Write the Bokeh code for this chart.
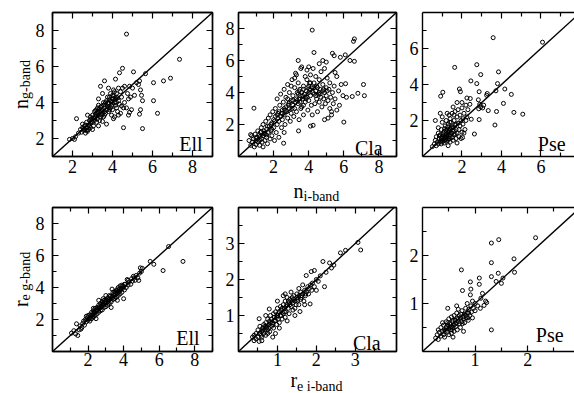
from bokeh.plotting import figure
from bokeh.layouts import column, row
from bokeh.models import Range1d, FixedTicker, LinearAxis, Label, Slope, CustomJSTickFormatter
from bokeh.embed import file_html
from bokeh.resources import INLINE

# ---------------- data: Sersic index n (g-band vs i-band) ----------------
ell_n_i = [1.85, 2.0, 2.1, 2.15, 2.2, 2.3, 2.4, 2.45, 2.5, 2.55,
           2.6, 2.6, 2.65, 2.7, 2.7, 2.75, 2.8, 2.8, 2.85, 2.9,
           2.9, 2.95, 3.0, 3.0, 3.05, 3.1, 3.1, 3.15, 3.2, 3.2,
           3.25, 3.25, 3.3, 3.3, 3.35, 3.4, 3.4, 3.45, 3.5, 3.5,
           3.5, 3.55, 3.6, 3.6, 3.6, 3.65, 3.7, 3.7, 3.7, 3.75,
           3.8, 3.8, 3.8, 3.85, 3.9, 3.9, 3.95, 4.0, 4.0, 4.0,
           4.05, 4.1, 4.1, 4.15, 4.2, 4.2, 4.25, 4.3, 4.3, 4.35,
           4.4, 4.4, 4.45, 4.5, 4.5, 4.55, 4.6, 4.6, 4.7, 4.7,
           4.75, 4.8, 4.8, 4.85, 4.9, 5.0, 5.05, 5.1, 5.2, 5.3,
           5.35, 5.4, 5.45, 5.5, 5.4, 5.35, 5.5, 5.65, 6.05, 6.05,
           6.25, 6.55, 6.9, 7.35, 4.15, 4.35, 3.4, 3.15, 2.9, 3.55,
           3.3, 3.45, 3.6, 3.75, 3.9, 4.0, 4.1, 4.2, 3.95, 3.85,
           4.95, 4.85, 4.55, 4.45, 4.3, 3.3, 3.0, 2.75, 3.5, 4.05,
           3.05, 3.15, 3.25, 3.35, 3.45, 3.55, 3.65, 3.75, 3.85, 3.95,
           4.05, 4.15, 4.25, 3.2, 3.4, 3.6, 3.8, 4.0, 4.2, 3.3,
           2.55, 2.65, 2.75, 2.85, 2.95, 2.5, 2.7, 2.9, 3.1, 3.2]
ell_n_g = [1.95, 2.0, 1.95, 2.1, 3.1, 2.3, 2.5, 2.35, 2.6, 2.45,
           2.7, 2.5, 2.3, 2.9, 2.6, 3.3, 2.75, 2.5, 3.0, 2.85,
           2.6, 3.1, 2.9, 3.3, 2.7, 3.0, 3.5, 3.2, 2.9, 3.4,
           3.1, 3.7, 3.3, 4.2, 3.0, 3.5, 3.2, 3.8, 3.4, 3.6,
           4.5, 3.2, 3.7, 3.9, 5.2, 3.4, 3.6, 4.1, 2.8, 3.8,
           4.0, 3.5, 4.8, 4.3, 3.7, 4.1, 3.3, 3.9, 4.4, 3.6,
           4.7, 4.0, 3.2, 4.2, 3.7, 4.5, 3.5, 4.8, 4.1, 3.9,
           4.6, 3.4, 4.3, 4.8, 5.9, 2.6, 4.0, 4.9, 3.7, 7.8,
           4.5, 4.2, 3.3, 4.9, 4.3, 4.8, 5.7, 4.4, 5.1, 5.0,
           5.2, 4.7, 4.4, 4.1, 3.6, 3.35, 2.55, 5.6, 5.1, 4.1,
           3.4, 5.2, 5.35, 6.4, 5.3, 5.65, 4.9, 3.55, 3.2, 4.0,
           3.5, 3.3, 3.3, 4.3, 4.5, 4.2, 4.6, 4.0, 3.8, 3.6,
           3.6, 3.45, 3.7, 3.8, 3.3, 2.7, 2.5, 2.4, 2.95, 3.1,
           3.15, 3.35, 3.45, 3.65, 3.55, 3.85, 4.0, 3.95, 4.15, 4.05,
           4.35, 3.85, 4.25, 3.6, 3.75, 3.5, 3.75, 4.25, 4.3, 3.85,
           2.55, 2.75, 2.65, 2.7, 2.95, 2.8, 2.45, 3.05, 3.1, 3.25]

cla_n_i = [0.6, 0.7, 0.75, 0.8, 0.85, 0.9, 0.95, 1.0, 1.0, 1.05,
           1.1, 1.1, 1.15, 1.2, 1.2, 1.25, 1.3, 1.3, 1.35, 1.4,
           1.4, 1.45, 1.5, 1.5, 1.55, 1.6, 1.6, 1.65, 1.7, 1.7,
           1.75, 1.8, 1.8, 1.85, 1.9, 1.9, 1.95, 2.0, 2.0, 2.05,
           2.1, 2.1, 2.15, 2.2, 2.2, 2.25, 2.3, 2.3, 2.35, 2.4,
           2.4, 2.45, 2.5, 2.5, 2.55, 2.6, 2.6, 2.65, 2.7, 2.7,
           2.75, 2.8, 2.8, 2.85, 2.9, 2.9, 2.95, 3.0, 3.0, 3.05,
           3.1, 3.1, 3.15, 3.2, 3.2, 3.25, 3.3, 3.3, 3.35, 3.4,
           3.4, 3.45, 3.5, 3.5, 3.55, 3.6, 3.6, 3.65, 3.7, 3.7,
           3.75, 3.8, 3.8, 3.85, 3.9, 3.9, 3.95, 4.0, 4.0, 4.05,
           3.3, 3.6, 3.9, 3.0, 3.2, 3.45, 3.7, 3.95, 3.35, 3.55,
           4.1, 4.1, 4.15, 4.2, 4.2, 4.25, 4.3, 4.3, 4.35, 4.4,
           4.4, 4.45, 4.5, 4.5, 4.55, 4.6, 4.6, 4.65, 4.7, 4.7,
           4.75, 4.8, 4.8, 4.85, 4.9, 4.9, 4.95, 5.0, 5.0, 5.05,
           5.1, 5.15, 5.2, 5.2, 5.25, 5.3, 5.35, 5.4, 5.45, 5.5,
           4.2, 6.55, 6.6, 0.88, 4.3, 5.35, 5.45, 5.8, 6.08, 6.35,
           6.6, 3.4, 7.12, 7.17, 6.8, 6.48, 6.15, 5.95, 6.0, 5.85,
           6.1, 5.5, 4.1, 4.25, 3.42, 2.57, 0.69, 5.6, 5.7, 5.75,
           4.0, 4.6, 5.0, 4.8, 5.6, 5.3, 5.1, 4.9, 1.4, 2.6,
           1.25, 1.45, 1.65, 1.85, 2.05, 2.25, 2.45, 2.65, 2.85, 3.05,
           3.25, 3.45, 3.65, 3.85, 4.05, 4.25, 4.45, 4.65, 4.85, 5.05,
           1.0, 1.3, 1.6, 1.9, 2.2, 2.5, 2.8, 3.1, 3.4, 3.7,
           4.0, 4.3, 4.6, 3.5, 3.8, 4.1, 4.4, 2.3, 2.6, 2.9]
cla_n_g = [1.0, 0.7, 1.3, 0.9, 1.1, 0.6, 1.4, 1.0, 0.75, 1.2,
           0.9, 1.6, 1.3, 1.0, 0.7, 1.5, 1.1, 1.8, 0.9, 1.3,
           2.0, 1.6, 1.0, 1.4, 2.2, 1.2, 1.7, 0.8, 1.5, 2.4,
           1.9, 1.1, 2.6, 1.6, 2.1, 1.3, 2.8, 1.8, 2.3, 1.0,
           2.5, 3.0, 1.5, 2.0, 3.6, 2.7, 2.2, 1.2, 3.2, 2.5,
           3.9, 1.8, 2.9, 2.3, 3.4, 4.2, 2.6, 2.0, 3.1, 3.7,
           2.8, 4.5, 2.4, 3.3, 3.0, 4.0, 2.2, 3.5, 2.7, 4.8,
           3.2, 3.8, 2.5, 4.3, 3.0, 5.2, 3.6, 2.8, 4.0, 3.3,
           4.6, 2.3, 3.8, 4.2, 5.5, 3.1, 4.0, 3.6, 4.4, 2.6,
           3.9, 5.0, 3.4, 4.1, 3.7, 5.4, 2.9, 4.0, 3.5, 4.6,
           5.1, 5.6, 4.8, 4.4, 4.9, 4.1, 3.2, 4.3, 3.5, 3.0,
           3.8, 5.1, 3.2, 4.3, 2.6, 5.5, 3.9, 4.6, 3.3, 4.1,
           5.0, 3.6, 4.3, 2.8, 3.9, 4.8, 3.4, 4.2, 3.7, 5.3,
           3.1, 4.1, 4.5, 3.6, 4.0, 5.5, 3.3, 4.3, 3.8, 4.9,
           3.5, 4.2, 3.0, 4.6, 3.7, 2.8, 4.0, 3.3, 4.4, 3.6,
           7.9, 7.2, 7.35, 3.02, 6.5, 6.45, 6.3, 6.2, 6.35, 6.0,
           5.95, 6.0, 4.5, 3.8, 3.95, 3.75, 3.7, 3.8, 2.15, 4.5,
           4.55, 5.25, 1.9, 1.95, 1.6, 0.83, 1.37, 5.0, 4.1, 3.2,
           5.6, 5.8, 5.9, 6.0, 2.9, 2.6, 2.4, 2.3, 0.6, 1.5,
           1.25, 1.45, 1.9, 2.0, 2.2, 2.4, 2.7, 2.9, 3.2, 3.0,
           3.4, 3.6, 3.8, 3.6, 4.2, 4.0, 4.4, 3.9, 4.2, 4.1,
           1.15, 1.55, 1.35, 1.7, 2.6, 2.7, 3.6, 3.5, 3.9, 4.2,
           4.4, 4.3, 4.0, 3.4, 3.7, 4.6, 3.8, 2.8, 3.0, 3.4]

pse_n_i = [0.5, 0.6, 0.65, 0.7, 0.7, 0.75, 0.8, 0.8, 0.85, 0.9,
           0.9, 0.95, 0.95, 1.0, 1.0, 1.0, 1.05, 1.05, 1.1, 1.1,
           1.1, 1.15, 1.15, 1.2, 1.2, 1.2, 1.25, 1.25, 1.3, 1.3,
           1.3, 1.35, 1.35, 1.4, 1.4, 1.4, 1.45, 1.45, 1.5, 1.5,
           1.5, 1.55, 1.55, 1.6, 1.6, 1.65, 1.65, 1.7, 1.7, 1.75,
           1.75, 1.8, 1.8, 1.85, 1.85, 1.9, 1.9, 1.95, 2.0, 2.0,
           2.05, 2.05, 2.1, 2.15, 2.2, 2.2, 2.3, 2.4, 1.6, 1.4,
           0.65, 0.8, 0.9, 1.0, 1.25, 1.55, 1.75, 2.0, 2.25, 1.95,
           3.58, 6.08, 1.63, 2.75, 2.95, 3.85, 2.45, 2.75, 3.8, 4.17,
           3.72, 1.03, 0.92, 1.87, 1.92, 2.25, 2.42, 2.87, 2.83, 3.25,
           3.28, 4.5, 4.1, 3.33, 3.75, 4.63, 5.08, 3.67, 2.87, 2.63,
           2.03, 2.85, 2.95, 3.05, 3.1, 2.9, 2.47, 2.1, 1.75, 1.3,
           1.0, 1.05, 1.1, 1.15, 1.2, 1.25, 1.3, 1.35, 1.4, 1.45,
           1.5, 1.55, 1.6, 1.65, 1.7, 0.85, 0.95, 1.12, 1.28, 1.38]
pse_n_g = [0.55, 0.7, 0.9, 0.6, 1.1, 0.8, 1.3, 0.7, 1.0, 0.85,
           1.2, 0.7, 1.5, 1.0, 0.8, 1.9, 1.2, 0.9, 1.4, 0.75,
           1.05, 1.7, 0.95, 1.25, 2.0, 0.85, 1.5, 1.1, 0.9, 1.35,
           1.8, 1.0, 2.3, 1.2, 1.55, 0.8, 1.9, 1.3, 1.05, 1.65,
           2.4, 1.4, 0.9, 2.0, 1.2, 1.75, 2.5, 1.5, 1.0, 2.2,
           1.3, 1.85, 2.6, 1.5, 1.1, 2.3, 1.7, 2.0, 1.35, 2.7,
           2.1, 1.8, 2.4, 1.5, 2.85, 2.0, 2.6, 2.9, 2.3, 2.1,
           2.0, 1.6, 2.4, 2.2, 2.4, 2.75, 3.0, 3.0, 2.2, 1.0,
           6.6, 6.35, 4.95, 5.1, 4.55, 4.7, 4.2, 4.05, 4.05, 3.75,
           3.65, 3.57, 3.35, 3.75, 3.6, 3.25, 3.22, 3.6, 3.15, 3.4,
           3.5, 3.45, 2.95, 2.55, 2.5, 2.45, 2.35, 1.75, 2.05, 1.25,
           1.05, 2.65, 2.75, 2.7, 2.85, 2.9, 2.07, 1.3, 0.75, 0.6,
           1.1, 1.3, 0.9, 1.15, 1.45, 1.0, 1.2, 1.45, 1.1, 1.6,
           1.3, 1.6, 1.45, 1.25, 1.8, 1.15, 1.05, 1.55, 1.65, 1.9]

# ---------------- data: effective radius r_e (g-band vs i-band) ----------------
ell_re_i = [1.07, 1.2, 1.35, 1.42, 1.5, 1.55, 1.65, 1.7, 1.75, 1.8,
            1.85, 1.9, 1.95, 2.0, 2.0, 2.05, 2.1, 2.1, 2.15, 2.2,
            2.2, 2.25, 2.3, 2.3, 2.35, 2.4, 2.4, 2.45, 2.5, 2.5,
            2.55, 2.6, 2.6, 2.65, 2.7, 2.7, 2.75, 2.8, 2.8, 2.85,
            2.9, 2.9, 2.95, 3.0, 3.0, 3.05, 3.1, 3.1, 3.15, 3.2,
            3.2, 3.25, 3.3, 3.3, 3.35, 3.4, 3.4, 3.45, 3.5, 3.5,
            3.55, 3.6, 3.6, 3.65, 3.7, 3.7, 3.75, 3.8, 3.8, 3.85,
            3.9, 3.9, 3.95, 4.0, 4.0, 4.05, 4.1, 4.15, 4.2, 4.25,
            4.3, 4.4, 4.45, 4.5, 4.6, 4.65, 4.7, 4.8, 4.85, 4.9,
            4.94, 5.0, 5.05, 5.5, 5.7, 6.22, 7.34, 6.53, 2.6, 2.3,
            3.35, 3.0, 2.45, 1.9, 4.55, 4.25, 3.65, 1.6, 1.3, 2.85,
            2.15, 2.35, 2.55, 2.75, 2.95, 3.15, 3.35, 3.55, 3.75, 3.95,
            2.25, 2.45, 2.65, 2.85, 3.05, 3.25, 3.45, 3.65, 3.85, 4.05]
ell_re_g = [1.15, 1.3, 1.73, 1.0, 1.35, 1.6, 1.5, 1.75, 1.9, 1.65,
            2.0, 1.85, 2.1, 1.95, 2.25, 2.05, 2.3, 1.9, 2.15, 2.45,
            2.05, 2.3, 2.55, 2.15, 2.4, 2.7, 2.25, 2.5, 2.35, 2.75,
            2.6, 2.45, 2.9, 2.7, 2.55, 3.0, 2.8, 2.6, 3.1, 2.9,
            2.75, 3.2, 3.0, 2.8, 3.25, 3.05, 2.9, 3.35, 3.15, 3.0,
            3.5, 3.3, 3.1, 2.75, 3.45, 3.25, 3.7, 3.5, 3.3, 3.75,
            3.55, 3.4, 3.85, 3.65, 3.5, 4.0, 3.75, 3.6, 4.1, 3.85,
            3.7, 4.15, 3.95, 3.3, 4.05, 3.85, 4.2, 4.0, 4.5, 4.15,
            4.35, 4.2, 4.55, 4.4, 4.6, 4.45, 4.75, 4.6, 4.44, 4.9,
            5.23, 5.0, 5.2, 5.63, 5.45, 5.06, 5.63, 6.56, 3.2, 2.7,
            3.9, 3.5, 2.05, 2.2, 4.7, 4.45, 3.2, 1.4, 1.1, 3.3,
            2.25, 2.45, 2.7, 2.85, 3.1, 3.25, 3.35, 3.7, 3.9, 4.1,
            2.15, 2.6, 2.8, 3.0, 3.2, 3.45, 3.6, 3.8, 3.95, 4.2]

cla_re_i = [0.36, 0.4, 0.45, 0.5, 0.5, 0.53, 0.55, 0.55, 0.6, 0.6,
            0.62, 0.65, 0.65, 0.68, 0.7, 0.7, 0.72, 0.75, 0.75, 0.78,
            0.8, 0.8, 0.82, 0.85, 0.85, 0.88, 0.88, 0.9, 0.9, 0.92,
            0.95, 0.95, 0.98, 1.0, 1.0, 1.02, 1.05, 1.05, 1.08, 1.1,
            1.1, 1.12, 1.15, 1.15, 1.18, 1.2, 1.2, 1.22, 1.25, 1.25,
            1.28, 1.3, 1.3, 1.32, 1.35, 1.38, 1.4, 1.4, 1.42, 1.45,
            1.48, 1.5, 1.5, 1.52, 1.55, 1.58, 1.6, 1.6, 1.62, 1.65,
            1.68, 1.7, 1.72, 1.74, 1.75, 1.78, 1.8, 1.82, 1.84, 1.85,
            1.87, 1.88, 1.9, 1.95, 1.95, 2.0, 2.05, 2.1, 2.17, 2.21,
            2.25, 2.34, 2.39, 2.45, 2.62, 2.75, 3.07, 3.14, 0.53, 0.79,
            0.6, 0.95, 1.05, 1.25, 1.45, 1.35, 1.55, 1.65, 1.0, 0.7,
            0.4, 0.45, 0.58, 0.75, 1.15, 1.45, 1.7, 2.0, 1.55, 1.2,
            0.62, 0.72, 0.82, 0.92, 1.02, 1.12, 1.22, 1.32, 1.42, 1.52,
            1.62, 1.72, 0.68, 0.78, 0.88, 0.98, 1.08, 1.18, 1.28, 1.38]
cla_re_g = [0.4, 0.45, 0.5, 0.4, 0.6, 0.28, 0.5, 0.7, 0.55, 0.4,
            0.65, 0.75, 0.5, 0.6, 0.8, 0.45, 0.7, 0.9, 0.6, 0.75,
            0.85, 0.55, 1.0, 0.7, 0.9, 0.4, 0.8, 1.05, 0.65, 0.95,
            0.85, 1.1, 0.75, 1.0, 1.2, 0.9, 1.1, 0.8, 1.25, 1.0,
            1.15, 0.9, 1.3, 1.05, 1.2, 1.4, 0.95, 1.1, 1.3, 1.5,
            1.2, 1.05, 1.35, 1.45, 1.25, 1.5, 1.35, 1.15, 1.55, 1.4,
            1.3, 1.5, 1.6, 1.4, 1.55, 1.11, 1.45, 1.65, 1.5, 1.6,
            1.4, 1.7, 1.55, 2.11, 1.65, 1.8, 1.6, 1.75, 1.32, 1.85,
            2.22, 1.7, 1.9, 2.25, 1.8, 2.0, 1.95, 2.1, 2.5, 1.8,
            2.2, 2.46, 2.32, 2.4, 2.74, 2.81, 3.03, 2.82, 0.91, 1.18,
            0.3, 0.5, 0.65, 0.85, 1.0, 1.65, 1.75, 1.85, 1.4, 1.0,
            0.3, 0.35, 0.45, 0.5, 1.55, 1.2, 1.3, 1.7, 1.3, 1.6,
            0.6, 0.65, 0.8, 0.85, 1.05, 1.2, 1.25, 1.3, 1.45, 1.45,
            1.55, 1.6, 0.7, 0.65, 0.75, 0.95, 1.0, 1.1, 1.4, 1.4]

pse_re_i = [0.25, 0.28, 0.3, 0.32, 0.35, 0.35, 0.38, 0.4, 0.4, 0.42,
            0.42, 0.45, 0.45, 0.47, 0.48, 0.5, 0.5, 0.5, 0.52, 0.53,
            0.55, 0.55, 0.55, 0.57, 0.58, 0.6, 0.6, 0.6, 0.62, 0.63,
            0.65, 0.65, 0.66, 0.68, 0.7, 0.7, 0.72, 0.73, 0.75, 0.75,
            0.77, 0.78, 0.8, 0.8, 0.82, 0.83, 0.85, 0.87, 0.88, 0.9,
            0.92, 0.93, 0.95, 0.97, 1.0, 1.0, 1.05, 1.1, 0.48, 0.65,
            0.74, 1.31, 1.45, 2.15, 1.31, 1.74, 1.44, 1.31, 1.4, 1.5,
            1.53, 1.75, 1.08, 1.08, 0.91, 0.92, 0.76, 0.91, 1.14, 1.11,
            1.31, 1.17, 1.22, 0.58, 0.38, 0.68, 0.85, 0.95, 1.2, 0.3,
            0.43, 0.48, 0.53, 0.58, 0.63, 0.68, 0.73, 0.78, 0.83, 0.88,
            0.46, 0.56, 0.66, 0.76, 0.86]
pse_re_g = [0.28, 0.35, 0.25, 0.4, 0.32, 0.5, 0.42, 0.35, 0.55, 0.45,
            0.3, 0.5, 0.62, 0.4, 0.55, 0.48, 0.68, 0.35, 0.58, 0.45,
            0.52, 0.72, 0.38, 0.62, 0.5, 0.55, 0.75, 0.42, 0.65, 0.52,
            0.6, 0.8, 0.45, 0.68, 0.58, 0.75, 0.5, 0.7, 0.62, 0.85,
            0.72, 0.42, 0.78, 0.6, 0.9, 0.7, 0.8, 0.65, 0.88, 0.75,
            0.95, 0.82, 0.7, 0.9, 0.85, 1.0, 0.95, 0.9, 0.9, 0.95,
            1.7, 2.26, 2.33, 2.37, 1.85, 1.93, 1.63, 1.56, 1.46, 1.42,
            1.53, 1.65, 1.53, 1.4, 1.45, 1.3, 1.27, 1.18, 1.21, 1.11,
            0.45, 0.96, 1.02, 0.3, 0.6, 0.88, 1.0, 1.05, 1.05, 0.45,
            0.42, 0.6, 0.5, 0.65, 0.58, 0.62, 0.78, 0.68, 0.75, 0.8,
            0.52, 0.45, 0.7, 0.58, 0.7]

# ---------------- ticks and texts ----------------
ticks_n18 = [2, 4, 6, 8]
minor_odd = [1, 3, 5, 7, 9]
ticks_n6 = [2, 4, 6]
ticks_re3 = [1, 2, 3]
minor_half = [0.5, 1.5, 2.5, 3.5]
ticks_re2 = [1, 2]
class_names = ["Ell", "Cla", "Pse"]

SERIF = "Liberation Serif"
W, H = 574, 393


def style_axis(ax, major, minor, labels, standoff=5):
    ax.ticker = FixedTicker(ticks=major, minor_ticks=minor)
    ax.major_tick_in = 6
    ax.major_tick_out = 0
    ax.minor_tick_in = 4
    ax.minor_tick_out = 0
    ax.axis_line_color = "black"
    ax.axis_line_width = 1.4
    ax.major_tick_line_color = "black"
    ax.minor_tick_line_color = "black"
    ax.major_tick_line_width = 1.2
    ax.minor_tick_line_width = 1.2
    if labels:
        ax.major_label_text_font = SERIF
        ax.major_label_text_font_size = "18px"
        ax.major_label_text_color = "black"
        ax.major_label_standoff = standoff
    else:
        ax.formatter = CustomJSTickFormatter(code="return ''")
        ax.major_label_text_font_size = "0px"
        ax.major_label_standoff = 0


def panel(xs, ys, xr, yr, xmaj, xmin, ymaj, ymin, ox, oy, bl, br, bt, bb, fw, fh,
          name, name_gx, name_gy, ystand, xstand, mirror_right=True):
    p = figure(width=bl + fw + br, height=bt + fh + bb,
               x_range=Range1d(*xr), y_range=Range1d(*yr),
               output_backend="svg", toolbar_location=None,
               min_border_left=bl, min_border_right=br,
               min_border_top=bt, min_border_bottom=bb,
               x_axis_location=None, y_axis_location=None,
               background_fill_color="white", border_fill_color="white")
    p.grid.visible = False
    if mirror_right:
        p.outline_line_color = "black"
        p.outline_line_width = 1.4
    else:
        p.outline_line_color = None

    below = LinearAxis(); style_axis(below, xmaj, xmin, True, xstand); p.add_layout(below, "below")
    left = LinearAxis(); style_axis(left, ymaj, ymin, True, ystand); p.add_layout(left, "left")
    above = LinearAxis(); style_axis(above, xmaj, xmin, False); p.add_layout(above, "above")
    if mirror_right:
        right = LinearAxis(); style_axis(right, ymaj, ymin, False); p.add_layout(right, "right")

    p.add_layout(Slope(gradient=1, y_intercept=0, line_color="black", line_width=1.4))
    p.scatter(xs, ys, marker="circle", size=4, fill_color=None,
              line_color="black", line_width=1.0)

    nx = xr[0] + (name_gx - (ox + bl)) / fw * (xr[1] - xr[0])
    ny = yr[0] + ((oy + bt + fh) - name_gy) / fh * (yr[1] - yr[0])
    p.add_layout(Label(x=nx, y=ny, text=name, text_font=SERIF, text_font_size="20px",
                       text_align="right", text_baseline="alphabetic", text_color="black"))
    return p


R1H = 195
R2H = H - R1H
f1 = panel(ell_n_i, ell_n_g, (1, 9), (1, 9), ticks_n18, minor_odd, ticks_n18, minor_odd,
           0, 0, 52, 10, 12, R1H - 156, 160, 144, class_names[0], 202, 143, 8, 3)
f2 = panel(cla_n_i, cla_n_g, (0, 9), (0, 9), ticks_n18, minor_odd, ticks_n18, minor_odd,
           222, 0, 14, 10, 12, R1H - 156, 160, 144, class_names[1], 382, 147, 4, 3)
f3 = panel(pse_n_i, pse_n_g, (0, 7.7), (0, 8), ticks_n6, minor_odd, ticks_n6, minor_odd,
           406, 0, 14, 0, 12, R1H - 156, 154, 144, class_names[2], 565, 143, 4, 3, mirror_right=False)
bt2 = 207 - R1H
bb2 = R2H - bt2 - 144
f4 = panel(ell_re_i, ell_re_g, (0, 9), (0, 9), ticks_n18, minor_odd, ticks_n18, minor_odd,
           0, R1H, 52, 10, bt2, bb2, 160, 144, class_names[0], 199, 337, 8, 1)
f5 = panel(cla_re_i, cla_re_g, (0, 4.06), (0, 4), ticks_re3, minor_half, ticks_re3, minor_half,
           222, R1H, 14, 10, bt2, bb2, 160, 144, class_names[1], 380, 342, 4, 1)
f6 = panel(pse_re_i, pse_re_g, (0, 2.89), (0, 3), ticks_re2, minor_half, ticks_re2, minor_half,
           406, R1H, 14, 0, bt2, bb2, 154, 144, class_names[2], 563, 334, 4, 1, mirror_right=False)

# transparent page-sized canvas laid over the panels, holding the axis titles
over = figure(width=W, height=H, x_range=Range1d(0, W), y_range=Range1d(H, 0),
              output_backend="svg", toolbar_location=None, min_border=0,
              x_axis_location=None, y_axis_location=None,
              background_fill_color=None, border_fill_color=None)
over.grid.visible = False
over.outline_line_color = None
over.margin = (-H, 0, 0, 0)


def add_title(gx, gy, text, size, angle=0):
    over.add_layout(Label(x=gx, y=gy, text=text, text_font=SERIF, text_font_size=size,
                          text_align="left", text_baseline="alphabetic", text_color="black",
                          angle=angle, angle_units="deg"))


add_title(20, 108.5, "n", "20px", 90)
add_title(24.5, 98.5, "g-band", "14px", 90)
add_title(20, 306.6, "r", "20px", 90)
add_title(24.5, 299.9, "e g-band", "14px", 90)
add_title(293.1, 190, "n", "20px")
add_title(303.1, 196, "i-band", "14px")
add_title(289.9, 379.5, "r", "20px")
add_title(296.6, 385.5, "e i-band", "14px")

layout = column(row(f1, f2, f3), row(f4, f5, f6), over)
open("out.html", "w").write(file_html(layout, INLINE))
